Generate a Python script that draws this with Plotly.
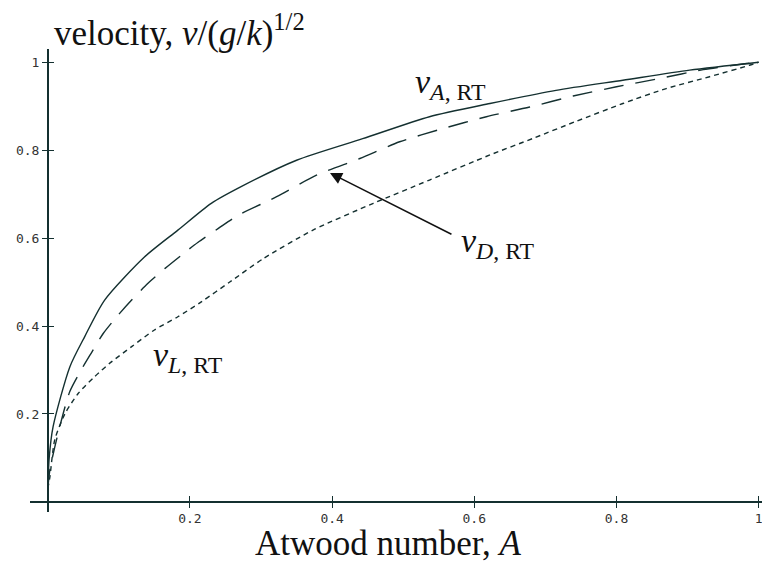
import plotly.graph_objects as go

# ---- data ----
A_A = [0.0, 0.002, 0.0075, 0.031, 0.052, 0.080, 0.136, 0.183, 0.230, 0.272, 0.350, 0.443, 0.537, 0.622, 0.715, 0.809, 0.903, 1.0]
v_A = [0.027, 0.10, 0.171, 0.307, 0.376, 0.459, 0.557, 0.618, 0.679, 0.717, 0.777, 0.826, 0.876, 0.906, 0.936, 0.959, 0.982, 1.0]

A_D = [0.0, 0.003, 0.0145, 0.031, 0.047, 0.061, 0.078, 0.097, 0.118, 0.141, 0.165, 0.188, 0.211, 0.240, 0.268, 0.322, 0.378, 0.439, 0.495, 0.556, 0.617, 0.678, 0.739, 0.800, 0.861, 0.922, 0.983, 1.0]
v_D = [0.03, 0.073, 0.156, 0.251, 0.300, 0.338, 0.383, 0.421, 0.459, 0.497, 0.531, 0.561, 0.590, 0.622, 0.652, 0.694, 0.743, 0.781, 0.819, 0.849, 0.876, 0.898, 0.923, 0.944, 0.963, 0.983, 0.997, 1.0]

A_L = [0.0, 0.003, 0.0098, 0.024, 0.043, 0.066, 0.090, 0.118, 0.150, 0.183, 0.216, 0.256, 0.303, 0.373, 0.458, 0.537, 0.622, 0.683, 0.744, 0.809, 0.870, 0.931, 0.987, 1.0]
v_L = [0.03, 0.057, 0.141, 0.200, 0.247, 0.285, 0.319, 0.353, 0.391, 0.421, 0.455, 0.500, 0.553, 0.618, 0.679, 0.732, 0.789, 0.827, 0.866, 0.906, 0.940, 0.967, 0.993, 1.0]

x_ticks = [0.2, 0.4, 0.6, 0.8, 1.0]
x_ticklabels = ["0.2", "0.4", "0.6", "0.8", "1"]
y_ticks = [0.2, 0.4, 0.6, 0.8, 1.0]
y_ticklabels = ["0.2", "0.4", "0.6", "0.8", "1"]

LINE = "#143030"
XR = [-0.025, 1.016]
YR = [-0.023, 1.03]

fig = go.Figure()
fig.add_trace(go.Scatter(x=A_A, y=v_A, mode="lines", line=dict(color=LINE, width=1.4, shape="spline", smoothing=0.7), showlegend=False))
fig.add_trace(go.Scatter(x=A_D, y=v_D, mode="lines", line=dict(color=LINE, width=1.4, dash="20px,12px", shape="spline", smoothing=0.7), showlegend=False))
fig.add_trace(go.Scatter(x=A_L, y=v_L, mode="lines", line=dict(color=LINE, width=1.4, dash="5px,4px", shape="spline", smoothing=0.7), showlegend=False))
# invisible trace to activate overlay axes (used for ticks crossing the axis lines)
fig.add_trace(go.Scatter(x=[0.5], y=[0.5], xaxis="x2", yaxis="y2", mode="markers", marker=dict(opacity=0), showlegend=False, hoverinfo="skip"))

xpos = (0 - XR[0]) / (XR[1] - XR[0])
ypos = (0 - YR[0]) / (YR[1] - YR[0])
tickfont = dict(family="DejaVu Sans Mono", size=13, color="#333")

common_x = dict(range=XR, tickvals=x_ticks, showgrid=False, zeroline=False,
                showline=True, linecolor=LINE, linewidth=1.5, tickcolor=LINE,
                ticklen=5, tickwidth=1.2, anchor="free", position=ypos, automargin=False)
common_y = dict(range=YR, tickvals=y_ticks, showgrid=False, zeroline=False,
                showline=True, linecolor=LINE, linewidth=1.5, tickcolor=LINE,
                ticklen=5, tickwidth=1.2, anchor="free", position=xpos, automargin=False)

# page body has an 8px default margin, so the figure is 8px smaller each way
fig.update_layout(
    width=762, height=553,
    margin=dict(l=22, r=0, t=41, b=49),
    plot_bgcolor="white", paper_bgcolor="white",
    xaxis=dict(**common_x, ticks="outside", ticktext=x_ticklabels, tickfont=tickfont),
    yaxis=dict(**common_y, ticks="outside", ticktext=y_ticklabels, tickfont=tickfont),
    xaxis2=dict(**common_x, ticks="inside", showticklabels=False, overlaying="x"),
    yaxis2=dict(**common_y, ticks="inside", showticklabels=False, overlaying="y"),
)

serif = "Liberation Serif"
fig.add_annotation(x=0.0297, y=1.040, xref="paper", yref="paper", xanchor="left", yanchor="middle",
                   text="velocity, <i>v</i>/(<i>g</i>/<i>k</i>)<sup>1/2</sup>", showarrow=False,
                   font=dict(family=serif, size=35, color="#111"))
fig.add_annotation(x=0.484, y=-0.068, xref="paper", yref="paper", xanchor="center", yanchor="middle",
                   text="Atwood number, <i>A</i>", showarrow=False,
                   font=dict(family=serif, size=35, color="#111"))
lab_font = dict(family=serif, size=34, color="#111")
fig.add_annotation(x=0.567, y=0.950, xref="x", yref="y", text="<i>v</i><sub><i>A</i>, RT</sub>",
                   showarrow=False, font=lab_font)
fig.add_annotation(x=0.633, y=0.588, xref="x", yref="y", text="<i>v</i><sub><i>D</i>, RT</sub>",
                   showarrow=False, font=lab_font)
fig.add_annotation(x=0.197, y=0.329, xref="x", yref="y", text="<i>v</i><sub><i>L</i>, RT</sub>",
                   showarrow=False, font=lab_font)
# arrow pointing to v_D curve
fig.add_annotation(x=0.397, y=0.748, xref="x", yref="y", ax=0.570, ay=0.607, axref="x", ayref="y",
                   text="", showarrow=True, arrowhead=2, arrowsize=1.6, arrowwidth=1.5, arrowcolor="#111")

fig.write_html("out.html")
